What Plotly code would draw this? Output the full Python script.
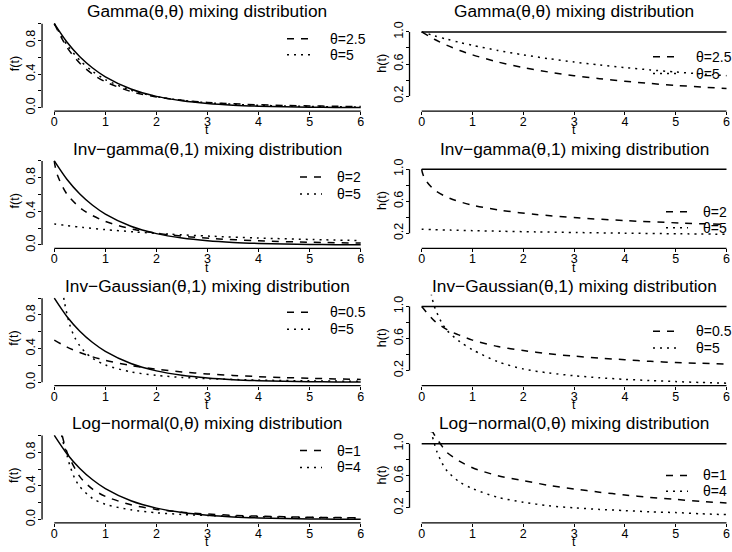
import plotly.graph_objects as go

W, H = 732, 552

# ---------------- data ----------------
# baseline (exponential) density and hazard
t_grid = [0, 0.25, 0.5, 0.75, 1, 1.5, 2, 2.5, 3, 3.5, 4, 4.5, 5, 5.5, 6]
f_exp = [1.0, 0.7788, 0.6065, 0.4724, 0.3679, 0.2231, 0.1353, 0.0821, 0.0498,
         0.0302, 0.0183, 0.0111, 0.0067, 0.0041, 0.0025]
t_flat = [0, 6]
h_exp = [1.0, 1.0]

# Gamma(theta, theta)
theta_gamma = ["2.5", "5"]
f_gamma_a = [1.0, 0.7164, 0.5283, 0.3992, 0.3080, 0.1930, 0.1278, 0.0884, 0.0633,
             0.0467, 0.0353, 0.0272, 0.0214, 0.0171, 0.0138]
f_gamma_b = [1.0, 0.7462, 0.5645, 0.4323, 0.3349, 0.2072, 0.1328, 0.0878, 0.0596,
             0.0414, 0.0294, 0.0213, 0.0156, 0.0117, 0.0088]
h_gamma_a = [1.0, 0.9091, 0.8333, 0.7692, 0.7143, 0.625, 0.5556, 0.5, 0.4545,
             0.4167, 0.3846, 0.3571, 0.3333, 0.3125, 0.2941]
h_gamma_b = [1.0, 0.9524, 0.9091, 0.8696, 0.8333, 0.7692, 0.7143, 0.6667, 0.625,
             0.5882, 0.5556, 0.5263, 0.5, 0.4762, 0.4545]

# Inverse gamma(theta, 1)
theta_invgam = ["2", "5"]
t_invgam = [0, 0.01, 0.0625, 0.25, 0.5625, 1, 1.5625, 2.25, 3.0625, 4, 5.0625, 6]
f_invgam_a = [1.0, 0.9552, 0.8282, 0.6019, 0.4161, 0.2797, 0.1847, 0.1205, 0.0778,
              0.0499, 0.0319, 0.0222]
f_invgam_b = [0.25, 0.2492, 0.2449, 0.2304, 0.2088, 0.1830, 0.1557, 0.1290, 0.1045,
              0.0830, 0.0647, 0.0525]
h_invgam_a = [1.0, 0.9646, 0.8776, 0.7409, 0.6337, 0.5512, 0.4867, 0.4353, 0.3933,
              0.3586, 0.3295, 0.3095]
h_invgam_b = [0.25, 0.2498, 0.2487, 0.2451, 0.2396, 0.2328, 0.2253, 0.2174, 0.2095,
              0.2016, 0.1940, 0.1881]

# Inverse Gaussian(theta, 1)
theta_ig = ["0.5", "5"]
f_ig_a = [0.5, 0.4175, 0.3532, 0.3019, 0.2605, 0.1982, 0.1544, 0.1226, 0.0989,
          0.0808, 0.0668, 0.0557, 0.0468, 0.0397, 0.0338]
t_ig_b = [0, 0.02, 0.05, 0.1, 0.15, 0.2, 0.3, 0.4, 0.5, 0.6, 0.75, 1, 1.5, 2,
          2.5, 3, 4, 5, 6]
f_ig_b = [5.0, 3.2545, 2.2455, 1.5275, 1.170, 0.949, 0.686, 0.533, 0.432, 0.3602,
          0.2845, 0.2050, 0.1225, 0.0814, 0.0576, 0.0426, 0.0253, 0.0162, 0.0110]
h_ig_a = [1.0, 0.82, 0.71, 0.64, 0.58, 0.50, 0.45, 0.41, 0.38, 0.355, 0.335,
          0.315, 0.30, 0.29, 0.28]
t_igh_b = [0.1, 0.15, 0.2, 0.25, 0.3, 0.4, 0.5, 0.75, 1, 1.5, 2, 2.5, 3, 3.5, 4,
           4.5, 5, 5.5, 6]
h_ig_b = [1.6, 1.32, 1.12, 1.0, 0.92, 0.79, 0.70, 0.56, 0.46, 0.31, 0.22, 0.17,
          0.135, 0.11, 0.09, 0.075, 0.062, 0.051, 0.042]

# Log-normal(0, theta)
theta_ln = ["1", "4"]
t_ln_a = [0, 0.05, 0.1, 0.15, 0.25, 0.5, 0.75, 1, 1.5, 2, 2.5, 3, 3.5, 4, 4.5,
          5, 5.5, 6]
f_ln_a = [1.65, 1.38, 1.16, 1.01, 0.80, 0.51, 0.36, 0.275, 0.175, 0.12, 0.087,
          0.065, 0.05, 0.04, 0.033, 0.027, 0.023, 0.02]
t_ln_b = [0.05, 0.1, 0.15, 0.2, 0.25, 0.3, 0.4, 0.5, 0.75, 1, 1.5, 2, 2.5, 3,
          3.5, 4, 4.5, 5, 5.5, 6]
f_ln_b = [2.0, 1.3, 0.98, 0.86, 0.76, 0.65, 0.49, 0.39, 0.25, 0.18, 0.115, 0.08,
          0.06, 0.047, 0.038, 0.032, 0.027, 0.023, 0.02, 0.018]
t_lnh = [0.1, 0.15, 0.2, 0.25, 0.3, 0.4, 0.5, 0.75, 1, 1.5, 2, 2.5, 3, 3.5, 4,
         4.5, 5, 5.5, 6]
h_ln_a = [1.34, 1.25, 1.17, 1.11, 1.06, 0.97, 0.89, 0.78, 0.70, 0.60, 0.54, 0.48,
          0.435, 0.395, 0.36, 0.33, 0.305, 0.28, 0.26]
h_ln_b = [1.6, 1.3, 1.12, 1.0, 0.9, 0.76, 0.66, 0.52, 0.44, 0.33, 0.27, 0.225,
          0.2, 0.18, 0.165, 0.15, 0.14, 0.125, 0.115]

x_ticks = [0, 1, 2, 3, 4, 5, 6]

# ---------------- layout geometry (pixels) ----------------
ROW_H = 138
PLOT_TOP, PLOT_BOT = 20.4, 111.7
COLS = [dict(t0=54.3, t6=360.7), dict(t0=421.7, t6=726.5)]
Y_RANGE = {"f": [-0.04, 1.04], "h": [0.012, 1.146]}
Y_TICKS = {"f": ([0, 0.2, 0.4, 0.6, 0.8, 1.0], ["0.0", "", "0.4", "", "0.8", ""]),
           "h": ([0.2, 0.4, 0.6, 0.8, 1.0], ["0.2", "", "0.6", "", "1.0"])}
DASH = {"solid": "solid", "dash": "7px,7px", "dot": "2px,5px"}
FONT = "Liberation Sans, Arial, Helvetica, sans-serif"

panels = [
    dict(row=0, col=0, kind="f", title="Gamma(θ,θ) mixing distribution",
         curves=[(t_grid, f_exp, "solid"), (t_grid, f_gamma_a, "dash"), (t_grid, f_gamma_b, "dot")],
         thetas=theta_gamma, leg_y=[39, 55], leg_x=(287, 310, 328)),
    dict(row=0, col=1, kind="h", title="Gamma(θ,θ) mixing distribution",
         curves=[(t_flat, h_exp, "solid"), (t_grid, h_gamma_a, "dash"), (t_grid, h_gamma_b, "dot")],
         thetas=theta_gamma, leg_y=[57, 74], leg_x=(653, 676, 694)),
    dict(row=1, col=0, kind="f", title="Inv−gamma(θ,1) mixing distribution",
         curves=[(t_grid, f_exp, "solid"), (t_invgam, f_invgam_a, "dash"), (t_invgam, f_invgam_b, "dot")],
         thetas=theta_invgam, leg_y=[178, 195], leg_x=(300, 322, 335)),
    dict(row=1, col=1, kind="h", title="Inv−gamma(θ,1) mixing distribution",
         curves=[(t_flat, h_exp, "solid"), (t_invgam, h_invgam_a, "dash"), (t_invgam, h_invgam_b, "dot")],
         thetas=theta_invgam, leg_y=[213, 229], leg_x=(666, 688, 701)),
    dict(row=2, col=0, kind="f", title="Inv−Gaussian(θ,1) mixing distribution",
         curves=[(t_grid, f_exp, "solid"), (t_grid, f_ig_a, "dash"), (t_ig_b, f_ig_b, "dot")],
         thetas=theta_ig, leg_y=[314, 331], leg_x=(287, 310, 328)),
    dict(row=2, col=1, kind="h", title="Inv−Gaussian(θ,1) mixing distribution",
         curves=[(t_flat, h_exp, "solid"), (t_grid, h_ig_a, "dash"), (t_igh_b, h_ig_b, "dot")],
         thetas=theta_ig, leg_y=[333, 350], leg_x=(653, 676, 694)),
    dict(row=3, col=0, kind="f", title="Log−normal(0,θ) mixing distribution",
         curves=[(t_grid, f_exp, "solid"), (t_ln_a, f_ln_a, "dash"), (t_ln_b, f_ln_b, "dot")],
         thetas=theta_ln, leg_y=[453, 470], leg_x=(300, 322, 335)),
    dict(row=3, col=1, kind="h", title="Log−normal(0,θ) mixing distribution",
         curves=[(t_flat, h_exp, "solid"), (t_lnh, h_ln_a, "dash"), (t_lnh, h_ln_b, "dot")],
         thetas=theta_ln, leg_y=[478, 494], leg_x=(666, 688, 701)),
]


def px(x):
    return x / W


def py(y):
    return 1 - y / H


fig = go.Figure()
layout = dict(width=W, height=H, margin=dict(l=0, r=0, t=0, b=0),
              paper_bgcolor="white", plot_bgcolor="white", showlegend=False,
              font=dict(family=FONT, color="black"))
shapes, annotations = [], []

for k, p in enumerate(panels, start=1):
    col = COLS[p["col"]]
    scale = (col["t6"] - col["t0"]) / 6.0
    left = col["t0"] - 0.24 * scale
    right_full = col["t6"] + 0.24 * scale
    right = min(right_full, W)
    top = p["row"] * ROW_H + PLOT_TOP
    bot = p["row"] * ROW_H + PLOT_BOT
    xs = "" if k == 1 else str(k)

    tv, tt = Y_TICKS[p["kind"]]
    layout["xaxis" + xs] = dict(
        domain=[px(left), px(right)],
        range=[(left - col["t0"]) / scale, (right - col["t0"]) / scale],
        anchor="y" + xs, showgrid=False, zeroline=False, showline=False,
        ticks="outside", ticklen=3, tickwidth=1.2, tickcolor="black",
        tickvals=x_ticks, ticktext=[str(v) for v in x_ticks],
        tickfont=dict(size=12.5, family=FONT), ticklabelstandoff=-4)
    layout["yaxis" + xs] = dict(
        domain=[py(bot), py(top)], range=Y_RANGE[p["kind"]],
        anchor="x" + xs, showgrid=False, zeroline=False, showline=False,
        ticks="outside", ticklen=3, tickwidth=1.2, tickcolor="black",
        tickvals=tv, ticktext=tt, tickangle=-90, ticklabelstandoff=-2,
        tickfont=dict(size=12.5, family=FONT))

    for tx, ty, style in p["curves"]:
        fig.add_trace(go.Scatter(
            x=tx, y=ty, mode="lines", xaxis="x" + xs, yaxis="y" + xs,
            line=dict(color="black", width=1.5, dash=DASH[style],
                      shape="spline", smoothing=0.8),
            hoverinfo="skip"))

    # R-style axis lines spanning the tick range only
    shapes.append(dict(type="line", xref="x" + xs, yref="y" + xs + " domain",
                       x0=x_ticks[0], x1=x_ticks[-1], y0=0, y1=0,
                       line=dict(color="black", width=1.3)))
    shapes.append(dict(type="line", xref="x" + xs + " domain", yref="y" + xs,
                       x0=0, x1=0, y0=tv[0], y1=tv[-1],
                       line=dict(color="black", width=1.3)))

    cx = (left + right_full) / 2
    annotations.append(dict(text=p["title"], x=px(cx), y=py(p["row"] * ROW_H + 11.5),
                            xref="paper", yref="paper", showarrow=False,
                            xanchor="center", yanchor="middle",
                            font=dict(size=17.3, family=FONT)))
    annotations.append(dict(text="t", x=px(cx), y=py(p["row"] * ROW_H + 131),
                            xref="paper", yref="paper", showarrow=False,
                            xanchor="center", yanchor="middle",
                            font=dict(size=12.5, family=FONT)))
    annotations.append(dict(text="f(t)" if p["kind"] == "f" else "h(t)",
                            x=px(left - 27.5), y=py(p["row"] * ROW_H + 64),
                            xref="paper", yref="paper", showarrow=False,
                            textangle=-90, xanchor="center", yanchor="middle",
                            font=dict(size=12.5, family=FONT)))

    # legend: line sample + label for each theta
    x0, x1, xt = p["leg_x"]
    for ly, th, style in zip(p["leg_y"], p["thetas"], ["dash", "dot"]):
        shapes.append(dict(type="line", xref="paper", yref="paper",
                           x0=px(x0), x1=px(x1), y0=py(ly), y1=py(ly),
                           line=dict(color="black", width=1.5, dash=DASH[style])))
        annotations.append(dict(text="θ=" + th, x=px(xt), y=py(ly),
                                xref="paper", yref="paper", showarrow=False,
                                xanchor="left", yanchor="middle",
                                font=dict(size=14, family=FONT)))

layout["shapes"] = shapes
layout["annotations"] = annotations
fig.update_layout(**layout)
fig.write_html("out.html")
